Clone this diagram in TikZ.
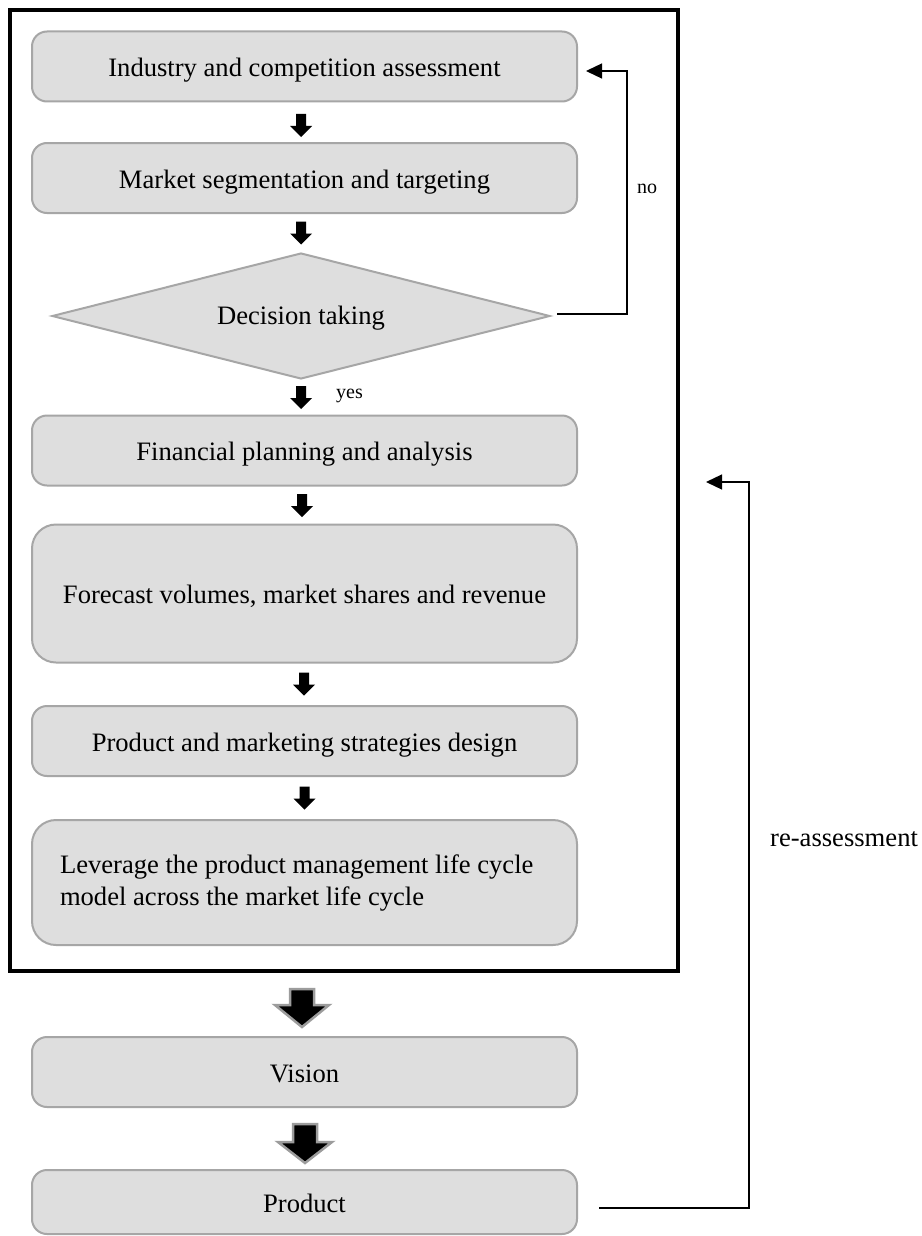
\documentclass[tikz,border=0pt]{standalone}
\usepackage{fontspec}
\setmainfont{Liberation Serif}
\usetikzlibrary{shapes.geometric,arrows.meta}

\definecolor{boxfill}{HTML}{DEDEDE}
\definecolor{boxline}{HTML}{A6A6A6}
\definecolor{arrline}{HTML}{9C9C9C}

\newcommand\mainsize{\fontsize{26.6}{32}\selectfont}
\newcommand\smallsize{\fontsize{20}{24}\selectfont}

% small solid block arrow pointing down, centred at (x, ymid)
\newcommand\stepdown[2]{%
  \fill[black] (#1-5,#2-11.5) -- (#1+5,#2-11.5) -- (#1+5,#2+0.5) -- (#1+11,#2+0.5)
    -- (#1,#2+11.5) -- (#1-11,#2+0.5) -- (#1-5,#2+0.5) -- cycle;}

% large block arrow with grey outline: x, ytop, yhead, ytip
\newcommand\bigstepdown[4]{%
  \draw[bigarr] (#1-12,#2) -- (#1+12,#2) -- (#1+12,#3) -- (#1+27,#3)
    -- (#1,#4) -- (#1-27,#3) -- (#1-12,#3) -- cycle;}

\tikzset{
  procbox/.style={draw=boxline, line width=2pt, fill=boxfill, rounded corners=15pt,
    minimum width=545pt, minimum height=70pt, inner sep=0pt, font=\mainsize},
  oneline/.style={text height=20pt, text depth=0pt},
  decbox/.style={diamond, aspect=4, draw=boxline, line width=2pt, fill=boxfill,
    minimum width=498pt, minimum height=126pt, inner sep=0pt, font=\mainsize,
    text height=16pt, text depth=0pt},
  thinarrow/.style={line width=1.3pt, -{Triangle[length=16pt, width=15pt]}},
  bigarr/.style={fill=black, draw=arrline, line width=2.5pt, line join=miter},
  lbl/.style={font=\smallsize, inner sep=0pt},
  biglbl/.style={font=\mainsize, inner sep=0pt}
}

\begin{document}
\begin{tikzpicture}[x=1pt, y=-1pt]
  \useasboundingbox (0,0) rectangle (921,1236);
  \fill[white] (0,0) rectangle (921,1236);

  % enclosing frame of the planning stage
  \draw[line width=4pt] (10,10) rectangle (678,971);

  % process steps
  \node[procbox, oneline] (ind) at (304.5,66.5) {Industry and competition assessment};
  \node[procbox, oneline] (seg) at (304.5,178) {Market segmentation and targeting};
  \node[decbox] (dec) at (301,316) {Decision taking};
  \node[procbox, oneline] (fin) at (304.5,450.5) {Financial planning and analysis};
  \node[procbox, oneline, minimum height=138pt, rounded corners=24pt] (fc) at (304.5,593.5)
    {Forecast volumes, market shares and revenue};
  \node[procbox, oneline] (pm) at (304.5,741) {Product and marketing strategies design};
  \node[procbox, minimum height=125pt, rounded corners=24pt, align=flush left,
        text width=489pt, inner xsep=28pt] (lev) at (304.5,882.5)
    {Leverage the product management life cycle\\model across the market life cycle};
  \node[procbox, oneline] (vis) at (304.5,1072) {Vision};
  \node[procbox, oneline, minimum height=64pt] (prod) at (304.5,1202) {Product};

  % flow arrows between steps
  \stepdown{301}{125.5}
  \stepdown{301}{233}
  \stepdown{301}{397.5}
  \stepdown{302}{505.5}
  \stepdown{304}{684}
  \stepdown{304.5}{798}
  \bigstepdown{302}{989}{1005}{1027}
  \bigstepdown{305}{1124}{1142}{1163}

  % "no" feedback loop
  \coordinate (noS) at (557,314);
  \coordinate (noC) at (627,71);
  \coordinate (noE) at (586,71);
  \draw[thinarrow] (noS) -| (noC) -- (noE);
  \node[lbl, anchor=base west] (nolbl) at (637,193) {no};

  \node[lbl, anchor=base west] (yeslbl) at (336,398) {yes};

  % re-assessment loop
  \coordinate (reS) at (599,1208);
  \coordinate (reC) at (749,482);
  \coordinate (reE) at (706,482);
  \draw[thinarrow] (reS) -| (reC) -- (reE);
  \node[biglbl, anchor=base west] (relbl) at (770,846) {re-assessment};
\end{tikzpicture}
\end{document}
